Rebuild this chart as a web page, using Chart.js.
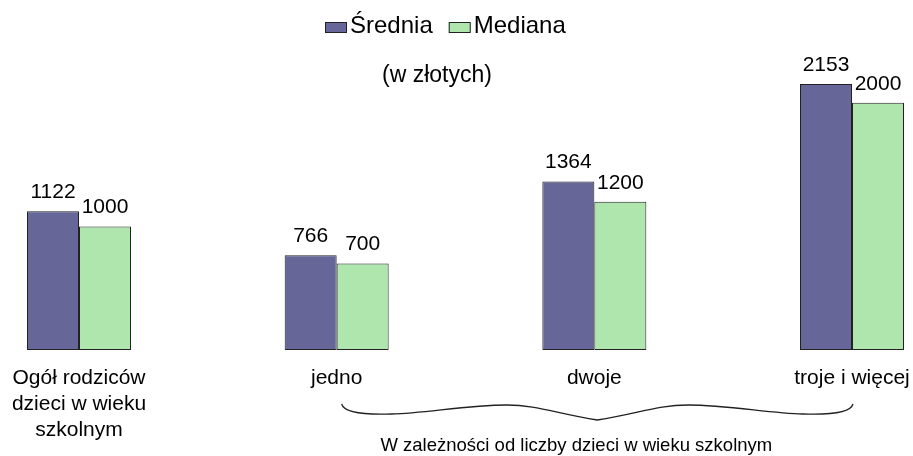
<!DOCTYPE html>
<html>
<head>
<meta charset="utf-8">
<script src="https://cdn.jsdelivr.net/npm/chart.js@4.4.0/dist/chart.umd.min.js"></script>
<style>
  html, body { margin: 0; padding: 0; background: #fff; }
</style>
</head>
<body>
<canvas id="myBarChart" width="913" height="456"></canvas>
<script>
// data
const categories = [['Ogół rodziców', 'dzieci w wieku', 'szkolnym'], 'jedno', 'dwoje', 'troje i więcej'];
const seriesNames = ['Średnia', 'Mediana'];
const srednia = [1122, 766, 1364, 2153];
const mediana = [1000, 700, 1200, 2000];
const subtitle = '(w złotych)';
const groupNote = 'W zależności od liczby dzieci w wieku szkolnym';

const fontFamily = '"Liberation Sans", Arial, sans-serif';

// numbers above the bars
const valueLabels = {
  id: 'valueLabels',
  afterDatasetsDraw(chart) {
    const ctx = chart.ctx;
    ctx.save();
    ctx.font = '21px ' + fontFamily;
    ctx.fillStyle = '#000';
    ctx.textAlign = 'center';
    ctx.textBaseline = 'alphabetic';
    chart.data.datasets.forEach((ds, i) => {
      chart.getDatasetMeta(i).data.forEach((bar, j) => {
        ctx.fillText(String(ds.data[j]), bar.x, bar.y - 13);
      });
    });
    ctx.restore();
  }
};

// legend, subtitle, brace and note under the last three groups
const extras = {
  id: 'extras',
  afterDraw(chart) {
    const ctx = chart.ctx;
    const w = chart.width;
    ctx.save();

    // legend
    ctx.font = '24px ' + fontFamily;
    const boxW = 22, boxH = 11, gapText = 3, gapItem = 16;
    const items = chart.data.datasets.map(ds => ({
      text: ds.label, color: ds.backgroundColor, tw: ctx.measureText(ds.label).width
    }));
    let total = 0;
    items.forEach((it, i) => { total += boxW + gapText + it.tw + (i ? gapItem : 0); });
    let x = Math.round(w / 2 - 11.5 - total / 2);
    ctx.textAlign = 'left';
    ctx.textBaseline = 'alphabetic';
    items.forEach(it => {
      ctx.fillStyle = it.color;
      ctx.fillRect(x, 22, boxW, boxH);
      ctx.strokeStyle = '#222';
      ctx.lineWidth = 1;
      ctx.strokeRect(x + 0.5, 22.5, boxW - 1, boxH - 1);
      ctx.fillStyle = '#000';
      ctx.fillText(it.text, x + boxW + gapText, 33);
      x += boxW + gapText + it.tw + gapItem;
    });

    // subtitle
    ctx.font = '23px ' + fontFamily;
    ctx.textAlign = 'center';
    ctx.fillText(subtitle, w / 2 - 19.5, 82);

    // brace from 'jedno' to 'troje i więcej'
    const xs = chart.scales.x.getPixelForValue(1) + 5;
    const xe = chart.scales.x.getPixelForValue(3) + 1;
    const mid = (xs + xe) / 2;
    const b = chart.chartArea.bottom;
    ctx.beginPath();
    ctx.moveTo(xs, b + 54);
    ctx.bezierCurveTo(xs + 2, b + 62, xs + 20, b + 65, xs + 50, b + 64);
    ctx.bezierCurveTo(xs + 85, b + 63, xs + 125, b + 55, xs + 165, b + 55);
    ctx.bezierCurveTo(mid - 60, b + 55, mid - 40, b + 64, mid, b + 70);
    ctx.bezierCurveTo(mid + 40, b + 64, mid + 60, b + 55, xe - 165, b + 55);
    ctx.bezierCurveTo(xe - 125, b + 55, xe - 85, b + 63, xe - 50, b + 64);
    ctx.bezierCurveTo(xe - 20, b + 65, xe - 2, b + 62, xe, b + 54);
    ctx.strokeStyle = '#222';
    ctx.lineWidth = 1.3;
    ctx.stroke();

    ctx.font = '18.5px ' + fontFamily;
    ctx.fillStyle = '#000';
    ctx.fillText(groupNote, mid - 21, b + 101);

    ctx.restore();
  }
};

const ctx = document.getElementById('myBarChart').getContext('2d');

const charData = {
  labels: categories,
  datasets: [{
    label: seriesNames[0],
    data: srednia,
    backgroundColor: '#666699',
    borderColor: '#222',
    borderWidth: 1,
    borderSkipped: false,
    barPercentage: 1,
    categoryPercentage: 0.4036,
    clip: false
  }, {
    label: seriesNames[1],
    data: mediana,
    backgroundColor: '#AEE6AE',
    borderColor: '#222',
    borderWidth: 1,
    borderSkipped: false,
    barPercentage: 1,
    categoryPercentage: 0.4036,
    clip: false
  }]
};

const config = {
  type: 'bar',
  data: charData,
  options: {
    responsive: false,
    animation: false,
    devicePixelRatio: 1,
    layout: {
      padding: { left: 79, right: 61, top: 41, bottom: 0 }
    },
    scales: {
      x: {
        offset: false,
        grid: { display: false, drawTicks: false },
        border: { display: false },
        ticks: {
          color: '#000',
          font: { family: fontFamily, size: 21, lineHeight: 1.24 },
          padding: 15,
          maxRotation: 0,
          autoSkip: false
        },
        afterFit: scale => {
          scale.height = 106;
          // edge labels fit inside the layout padding already
          scale.paddingLeft = 0;
          scale.paddingRight = 0;
        }
      },
      y: {
        display: false,
        min: 0,
        max: 2500
      }
    },
    plugins: {
      legend: { display: false },
      tooltip: { enabled: false }
    }
  },
  plugins: [valueLabels, extras]
};

const myBarChart = new Chart(ctx, config);
</script>
</body>
</html>
